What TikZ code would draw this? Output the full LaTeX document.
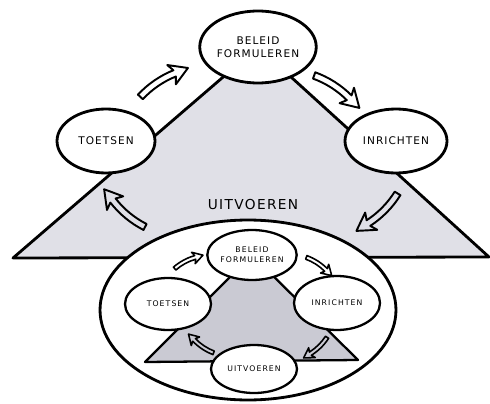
\documentclass[tikz,border=0pt]{standalone}
\usepackage{fontspec}
\setmainfont{DejaVu Sans}
\usetikzlibrary{shapes.geometric}
\definecolor{wash}{HTML}{E0E0E7}
\definecolor{washdark}{HTML}{CACAD3}
\tikzset{
  loop/.style={draw, line width=1.6pt, fill=white, ellipse, inner sep=0pt},
  inloop/.style={draw, line width=1.3pt, fill=white, ellipse, inner sep=0pt},
  bigtxt/.style={font=\fontsize{6}{7.5}\selectfont\addfontfeature{LetterSpace=10}, align=center},
  smalltxt/.style={font=\fontsize{4.4}{5.6}\selectfont\addfontfeature{LetterSpace=14}, align=center},
  turn/.pic={
    \begin{scope}[shift={(0,-1.95)}]
    \draw[line width=\pgfkeysvalueof{/tikz/turnwidth}, line join=round]
      (105:2.07) arc (105:80:2.07) -- (82:2.22) -- (0.642,1.918) -- (82:1.78)
      -- (80:1.93) arc (80:105:1.93) -- cycle;
    \end{scope}},
  turnwidth/.initial=1.1pt
}

\begin{document}
\begin{tikzpicture}[x=0.02cm,y=0.02cm]
        \useasboundingbox (0,0) rectangle (490,403);
        % big cycle
        \coordinate (apex) at (258,356);
        \coordinate (bl) at (13,145);
        \coordinate (br) at (489,146);
        \draw[line width=1.6pt,fill=wash,line join=round] (apex) -- (bl) -- (br) -- cycle;
        \node[loop,minimum width=5.92cm,minimum height=3.6cm] (ring) at (248,93) {};
        \node[font=\fontsize{7.8}{9}\selectfont\addfontfeature{LetterSpace=10}] (doen) at (253,198) {UITVOEREN};
        % small cycle inside the ring
        \coordinate (sapex) at (252,148);
        \coordinate (sbl) at (145,41);
        \coordinate (sbr) at (358,43);
        \draw[line width=1.3pt,fill=washdark,line join=round] (sapex) -- (sbl) -- (sbr) -- cycle;
        \node[inloop,smalltxt,minimum width=1.76cm,minimum height=1.0cm] (sbeleid) at (252,148) {BELEID\\FORMULEREN};
        \node[inloop,smalltxt,minimum width=1.72cm,minimum height=1.04cm] (stoetsen) at (168,99) {TOETSEN};
        \node[inloop,smalltxt,minimum width=1.72cm,minimum height=1.08cm] (sinrichten) at (337,100) {INRICHTEN};
        \node[inloop,smalltxt,minimum width=1.72cm,minimum height=0.96cm] (suitvoeren) at (254,34) {UITVOEREN};
        % big nodes
        \node[loop,bigtxt,minimum width=2.18cm,minimum height=1.44cm] (beleid) at (258,356) {BELEID\\FORMULEREN};
        \node[loop,bigtxt,minimum width=1.96cm,minimum height=1.28cm] (toetsen) at (106,262) {TOETSEN};
        \node[loop,bigtxt,minimum width=2.04cm,minimum height=1.28cm] (inrichten) at (396,262) {INRICHTEN};
        % turning arrows
        \pic[rotate=32,scale=48] at (161,320) {turn};
        \pic[rotate=-35,scale=48] at (335,314) {turn};
        \pic[rotate=-137,scale=48] at (380,192) {turn};
        \pic[rotate=138,scale=48] at (126,192) {turn};
        \pic[rotate=26,scale=27,turnwidth=0.9pt] at (187,141) {turn};
        \pic[rotate=-35,scale=27,turnwidth=0.9pt] at (318,138) {turn};
        \pic[rotate=-138,scale=27,turnwidth=0.9pt] at (317,56) {turn};
        \pic[rotate=144,scale=27,turnwidth=0.9pt] at (202,58) {turn};
\end{tikzpicture}
\end{document}
